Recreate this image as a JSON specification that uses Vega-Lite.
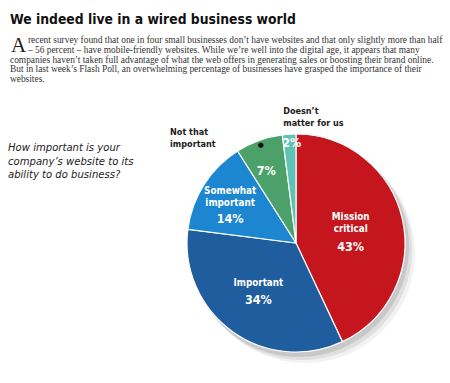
{
  "$schema": "https://vega.github.io/schema/vega-lite/v6.json",
  "autosize": "none",
  "width": 450,
  "height": 383,
  "padding": 0,
  "background": "white",
  "config": {"view": {"stroke": null}},
  "data": {
    "values": [
      {"cat": "Mission critical", "name": "Mission\ncritical", "pct": "43%", "value": 43, "order": 1},
      {"cat": "Important", "name": "Important", "pct": "34%", "value": 34, "order": 2},
      {"cat": "Somewhat important", "name": "Somewhat\nimportant", "pct": "14%", "value": 14, "order": 3},
      {"cat": "Not that important", "name": "Not that\nimportant", "pct": "7%", "value": 7, "order": 4},
      {"cat": "Doesn't matter for us", "name": "Doesn’t\nmatter for us", "pct": "2%", "value": 2, "order": 5}
    ]
  },
  "layer": [
    {
      "data": {"values": [{"s": 1}]},
      "mark": {"type": "text", "x": 10, "y": 23.5, "text": "We indeed live in a wired business world", "align": "left", "baseline": "alphabetic", "font": "DejaVu Sans Condensed, sans-serif", "fontSize": 13.8, "fontWeight": "bold", "color": "#111111"},
      "encoding": {}
    },
    {
      "data": {"values": [{"s": 1}]},
      "mark": {"type": "text", "x": 28, "y": 43.3, "lineHeight": 9.67, "align": "left", "baseline": "alphabetic", "font": "Liberation Serif, DejaVu Serif, serif", "fontSize": 9.4, "color": "#333333",
        "text": [
          "recent survey found that one in four small businesses don’t have websites and that only slightly more than half",
          "– 56 percent – have mobile-friendly websites. While we’re well into the digital age, it appears that many"
        ]},
      "encoding": {}
    },
    {
      "data": {"values": [{"s": 1}]},
      "mark": {"type": "text", "x": 10, "y": 62.64, "lineHeight": 9.67, "align": "left", "baseline": "alphabetic", "font": "Liberation Serif, DejaVu Serif, serif", "fontSize": 9.4, "color": "#333333",
        "text": [
          "companies haven’t taken full advantage of what the web offers in generating sales or boosting their brand online.",
          "But in last week’s Flash Poll, an overwhelming percentage of businesses have grasped the importance of their",
          "websites."
        ]},
      "encoding": {}
    },
    {
      "data": {"values": [{"s": 1}]},
      "mark": {"type": "text", "x": 11, "y": 51.5, "text": "A", "align": "left", "baseline": "alphabetic", "font": "Liberation Serif, DejaVu Serif, serif", "fontSize": 21, "color": "#222222"},
      "encoding": {}
    },
    {
      "data": {"values": [{"s": 1}]},
      "mark": {"type": "arc", "radius": 110, "x": 305, "y": 253, "color": "#000000", "opacity": 0.05},
      "encoding": {}
    },
    {
      "data": {"values": [{"s": 1}]},
      "mark": {"type": "arc", "radius": 110, "x": 302, "y": 250, "color": "#000000", "opacity": 0.08},
      "encoding": {}
    },
    {
      "data": {"values": [{"s": 1}]},
      "mark": {"type": "arc", "radius": 110, "x": 299, "y": 247, "color": "#000000", "opacity": 0.1},
      "encoding": {}
    },
    {
      "mark": {"type": "arc", "radius": 109, "x": 296, "y": 243, "stroke": "white", "strokeWidth": 1.2},
      "encoding": {
        "theta": {"field": "value", "type": "quantitative", "stack": true},
        "order": {"field": "order", "type": "quantitative"},
        "color": {
          "field": "cat", "type": "nominal", "legend": null,
          "scale": {
            "domain": ["Mission critical", "Important", "Somewhat important", "Not that important", "Doesn't matter for us"],
            "range": ["#C5161E", "#1F5D9E", "#1C87D0", "#4CA16A", "#5EC3B5"]
          }
        }
      }
    },
    {
      "mark": {"type": "text", "x": 296, "y": 243, "radius": 56, "dy": -14, "font": "DejaVu Sans Condensed, sans-serif", "fontSize": 9.8, "fontWeight": "bold", "color": "white", "lineBreak": "\n", "lineHeight": 12.5, "baseline": "middle", "align": "center"},
      "encoding": {
        "theta": {"field": "value", "type": "quantitative", "stack": true},
        "order": {"field": "order", "type": "quantitative"},
        "text": {"condition": {"test": "datum.cat === 'Mission critical'", "field": "name"}, "value": ""}
      }
    },
    {
      "mark": {"type": "text", "x": 296, "y": 243, "radius": 56, "dy": 16, "font": "DejaVu Sans Condensed, sans-serif", "fontSize": 12.5, "fontWeight": "bold", "color": "white", "baseline": "middle", "align": "center"},
      "encoding": {
        "theta": {"field": "value", "type": "quantitative", "stack": true},
        "order": {"field": "order", "type": "quantitative"},
        "text": {"condition": {"test": "datum.cat === 'Mission critical'", "field": "pct"}, "value": ""}
      }
    },
    {
      "mark": {"type": "text", "x": 296, "y": 243, "radius": 64, "dy": -12, "font": "DejaVu Sans Condensed, sans-serif", "fontSize": 9.8, "fontWeight": "bold", "color": "white", "baseline": "middle", "align": "center"},
      "encoding": {
        "theta": {"field": "value", "type": "quantitative", "stack": true},
        "order": {"field": "order", "type": "quantitative"},
        "text": {"condition": {"test": "datum.cat === 'Important'", "field": "name"}, "value": ""}
      }
    },
    {
      "mark": {"type": "text", "x": 296, "y": 243, "radius": 64, "dy": 5, "font": "DejaVu Sans Condensed, sans-serif", "fontSize": 12.5, "fontWeight": "bold", "color": "white", "baseline": "middle", "align": "center"},
      "encoding": {
        "theta": {"field": "value", "type": "quantitative", "stack": true},
        "order": {"field": "order", "type": "quantitative"},
        "text": {"condition": {"test": "datum.cat === 'Important'", "field": "pct"}, "value": ""}
      }
    },
    {
      "mark": {"type": "text", "x": 296, "y": 243, "radius": 78, "dy": -10.5, "font": "DejaVu Sans Condensed, sans-serif", "fontSize": 9.8, "fontWeight": "bold", "color": "white", "lineBreak": "\n", "lineHeight": 12.5, "baseline": "middle", "align": "center"},
      "encoding": {
        "theta": {"field": "value", "type": "quantitative", "stack": true},
        "order": {"field": "order", "type": "quantitative"},
        "text": {"condition": {"test": "datum.cat === 'Somewhat important'", "field": "name"}, "value": ""}
      }
    },
    {
      "mark": {"type": "text", "x": 296, "y": 243, "radius": 78, "dy": 18, "font": "DejaVu Sans Condensed, sans-serif", "fontSize": 12.5, "fontWeight": "bold", "color": "white", "baseline": "middle", "align": "center"},
      "encoding": {
        "theta": {"field": "value", "type": "quantitative", "stack": true},
        "order": {"field": "order", "type": "quantitative"},
        "text": {"condition": {"test": "datum.cat === 'Somewhat important'", "field": "pct"}, "value": ""}
      }
    },
    {
      "mark": {"type": "text", "x": 296, "y": 243, "radius": 76, "dx": -4, "font": "DejaVu Sans Condensed, sans-serif", "fontSize": 12.5, "fontWeight": "bold", "color": "white", "baseline": "middle", "align": "center"},
      "encoding": {
        "theta": {"field": "value", "type": "quantitative", "stack": true},
        "order": {"field": "order", "type": "quantitative"},
        "text": {"condition": {"test": "datum.cat === 'Not that important'", "field": "pct"}, "value": ""}
      }
    },
    {
      "mark": {"type": "text", "x": 296, "y": 243, "radius": 100, "dx": 2, "font": "DejaVu Sans Condensed, sans-serif", "fontSize": 12.5, "fontWeight": "bold", "color": "white", "baseline": "middle", "align": "center"},
      "encoding": {
        "theta": {"field": "value", "type": "quantitative", "stack": true},
        "order": {"field": "order", "type": "quantitative"},
        "text": {"condition": {"test": "datum.cat === \"Doesn't matter for us\"", "field": "pct"}, "value": ""}
      }
    },
    {
      "mark": {"type": "text", "x": 296, "y": 243, "radius": 112, "dx": -88, "dy": -6, "font": "DejaVu Sans Condensed, sans-serif", "fontSize": 9, "fontWeight": "bold", "color": "#1a1a1a", "lineBreak": "\n", "lineHeight": 12.5, "baseline": "middle", "align": "left"},
      "encoding": {
        "theta": {"field": "value", "type": "quantitative", "stack": true},
        "order": {"field": "order", "type": "quantitative"},
        "text": {"condition": {"test": "datum.cat === 'Not that important'", "field": "name"}, "value": ""}
      }
    },
    {
      "mark": {"type": "text", "x": 296, "y": 243, "radius": 124, "dx": -5, "dy": -8.5, "font": "DejaVu Sans Condensed, sans-serif", "fontSize": 9, "fontWeight": "bold", "color": "#1a1a1a", "lineBreak": "\n", "lineHeight": 12.5, "baseline": "middle", "align": "left"},
      "encoding": {
        "theta": {"field": "value", "type": "quantitative", "stack": true},
        "order": {"field": "order", "type": "quantitative"},
        "text": {"condition": {"test": "datum.cat === \"Doesn't matter for us\"", "field": "name"}, "value": ""}
      }
    },
    {
      "mark": {"type": "text", "x": 296, "y": 243, "radius": 104, "font": "DejaVu Sans, sans-serif", "fontSize": 7, "color": "#111111", "baseline": "middle", "align": "center"},
      "encoding": {
        "theta": {"field": "value", "type": "quantitative", "stack": true},
        "order": {"field": "order", "type": "quantitative"},
        "text": {"condition": {"test": "datum.cat === 'Not that important'", "value": "●"}, "value": ""}
      }
    },
    {
      "data": {"values": [{"s": 1}]},
      "mark": {"type": "rule", "x": 215, "x2": 257, "y": 144.3, "y2": 144.3, "color": "#9a9a9a", "strokeWidth": 1},
      "encoding": {}
    },
    {
      "data": {"values": [{"s": 1}]},
      "mark": {"type": "text", "x": 8, "y": 148, "text": ["How important is your", "company’s website to its", "ability to do business?"], "align": "left", "baseline": "middle", "font": "DejaVu Sans Condensed, sans-serif", "fontStyle": "italic", "fontSize": 11.2, "lineHeight": 13.5, "color": "#222222"},
      "encoding": {}
    }
  ]
}
